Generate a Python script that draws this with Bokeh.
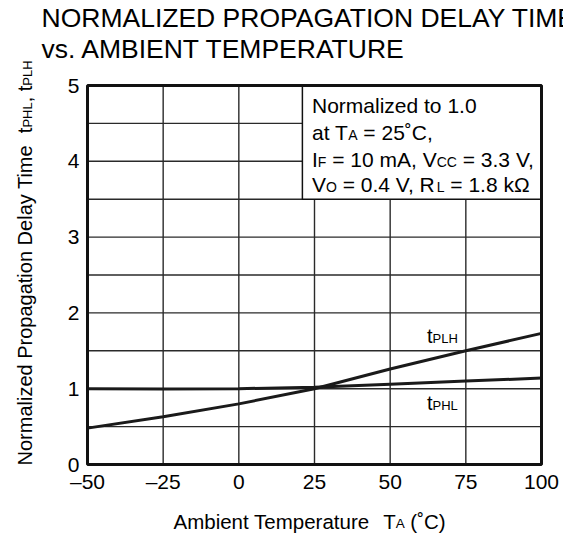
import math
from bokeh.plotting import figure
from bokeh.models import Range1d, FixedTicker, Label
from bokeh.embed import file_html
from bokeh.resources import INLINE

# ---------------- data ----------------
temps = [-50, -25, 0, 25, 50, 75, 100]
t_plh = [0.48, 0.63, 0.80, 1.00, 1.26, 1.50, 1.73]
t_phl = [1.00, 0.995, 1.00, 1.02, 1.06, 1.10, 1.14]

x_ticks = [-50, -25, 0, 25, 50, 75, 100]
x_tick_labels = ["–50", "–25", "0", "25", "50", "75", "100"]
y_ticks = [0, 1, 2, 3, 4, 5]
y_tick_labels = ["0", "1", "2", "3", "4", "5"]
x_grid = [-25, 0, 25, 50, 75]
y_grid = [0.5, 1.0, 1.5, 2.0, 2.5, 3.0, 3.5, 4.0, 4.5]

title_lines = ["NORMALIZED PROPAGATION DELAY TIME", "vs. AMBIENT TEMPERATURE"]
note_box = {"left": 21, "right": 100, "bottom": 3.5, "top": 5}

FONT = "Liberation Sans"

# ---------------- geometry (pixels from the figure's top-left) ----------------
W_, H_ = 563, 535
FL, FR, FT, FB = 87, 541, 85, 464          # the plotting box
XMIN, XMAX, YMIN, YMAX = -50, 100, 0, 5
SHIFT = 0.36   # empirical baseline correction of Label text (in em)


def dx(wx):
    return XMIN + (wx - FL) * (XMAX - XMIN) / (FR - FL)


def dy(wy):
    return YMIN + (FB - wy) * (YMAX - YMIN) / (FB - FT)


# the frame covers the whole canvas; the axes are pinned to the box edges
p = figure(width=W_, height=H_, output_backend="svg", toolbar_location=None, title=None,
           x_range=Range1d(dx(0), dx(W_)), y_range=Range1d(dy(H_), dy(0)),
           min_border=0, min_border_left=0, min_border_right=0,
           min_border_top=0, min_border_bottom=0)
p.background_fill_color = "white"
p.border_fill_color = "white"
p.outline_line_color = None

p.xaxis.fixed_location = YMIN
p.yaxis.fixed_location = XMIN
p.xaxis.ticker = FixedTicker(ticks=x_ticks)
p.xaxis.major_label_overrides = {t: l for t, l in zip(x_ticks, x_tick_labels)}
p.yaxis.ticker = FixedTicker(ticks=y_ticks)
p.yaxis.major_label_overrides = {t: l for t, l in zip(y_ticks, y_tick_labels)}
for ax in (p.xaxis, p.yaxis):
    ax.axis_line_color = None
    ax.major_tick_line_color = None
    ax.minor_tick_line_color = None
    ax.major_tick_out = 0
    ax.major_tick_in = 0
    ax.major_label_text_font = FONT
    ax.major_label_text_font_size = "21px"
    ax.major_label_text_color = "black"
p.xaxis.major_label_standoff = 5
p.yaxis.major_label_standoff = 8
p.xgrid.grid_line_color = None
p.ygrid.grid_line_color = None

# grid lines inside the box only
GRID_C, GRID_W = "#2a2a2a", 1.4
p.segment(x0=x_grid, x1=x_grid, y0=[YMIN] * len(x_grid), y1=[YMAX] * len(x_grid),
          line_color=GRID_C, line_width=GRID_W)
p.segment(x0=[XMIN] * len(y_grid), x1=[XMAX] * len(y_grid), y0=y_grid, y1=y_grid,
          line_color=GRID_C, line_width=GRID_W)

# curves
p.line(temps, t_plh, line_color="#1a1a1a", line_width=3)
p.line(temps, t_phl, line_color="#1a1a1a", line_width=3)

# note box
p.quad(left=[note_box["left"]], right=[note_box["right"]], bottom=[note_box["bottom"]],
       top=[note_box["top"]], fill_color="white", line_color="#111111", line_width=1.5)

# plot box border
p.quad(left=[XMIN], right=[XMAX], bottom=[YMIN], top=[YMAX], fill_color=None,
       line_color="#111111", line_width=3)

# ---------------- text helpers ----------------
AW = {' ': 278, '(': 333, ')': 333, ',': 278, '.': 278, '=': 584, '–': 556, '˚': 333, 'Ω': 768,
      'A': 667, 'B': 667, 'C': 722, 'D': 722, 'E': 667, 'F': 611, 'G': 778, 'H': 722, 'I': 278,
      'L': 556, 'M': 833, 'N': 722, 'O': 778, 'P': 667, 'R': 722, 'T': 611, 'U': 722, 'V': 667,
      'Y': 667, 'Z': 611, 'a': 556, 'b': 556, 'd': 556, 'e': 556, 'g': 556, 'i': 222, 'k': 500,
      'l': 222, 'm': 833, 'n': 556, 'o': 556, 'p': 556, 'r': 333, 's': 500, 't': 278, 'u': 556,
      'v': 500, 'y': 500, 'z': 500}
for d in "0123456789":
    AW[d] = 556


def tw(s, size):
    return sum(AW.get(c, 556) for c in s) * size / 1000.0


def rich(pieces, px, py, angle=0.0):
    """Run of (text, size) pieces; (px, py) = start of the baseline in figure pixels."""
    pos = 0.0
    for text, size in pieces:
        lead = len(text) - len(text.lstrip(" "))
        core = text.strip(" ")
        start = pos + tw(" " * lead, size)
        if core:
            if angle == 0:
                wx, wy = px + start, py - SHIFT * size
            else:
                wx, wy = px - SHIFT * size, py - start
            p.add_layout(Label(x=dx(wx), y=dy(wy), text=core,
                               text_font=FONT, text_font_size=f"{size}px",
                               text_align="left", text_baseline="alphabetic", angle=angle,
                               text_color="black"))
        pos += tw(text, size)


# title
rich([(title_lines[0], 26.5)], 41, 27)
rich([(title_lines[1], 26.5)], 41, 58)

# note box text
M, S = 21, 14
bx = 311.5
rich([("Normalized to 1.0", M)], bx, 113)
rich([("at T", M), ("A", S), (" = 25˚C,", M)], bx, 140)
rich([("I", M), ("F", S), (" = 10 mA, V", M), ("CC", S), (" = 3.3 V,", M)], bx, 167)
rich([("V", M), ("O", S), (" = 0.4 V, R", M), ("L", S), (" = 1.8 kΩ", M)], bx, 192)

# curve labels
rich([("t", 20), ("PLH", 13)], 426.5, 343)
rich([("t", 20), ("PHL", 13)], 426.5, 410)

# axis titles
rich([("Ambient Temperature", 20.5), ("  T", 20.5), ("A", 13.5), (" (˚C)", 20.5)], 173, 528)
rich([("Normalized Propagation Delay Time", 20), ("  t", 20), ("PHL", 13), (", t", 20), ("PLH", 13)],
     31.5, 465, angle=math.pi / 2)

open("out.html", "w").write(file_html(p, INLINE))
